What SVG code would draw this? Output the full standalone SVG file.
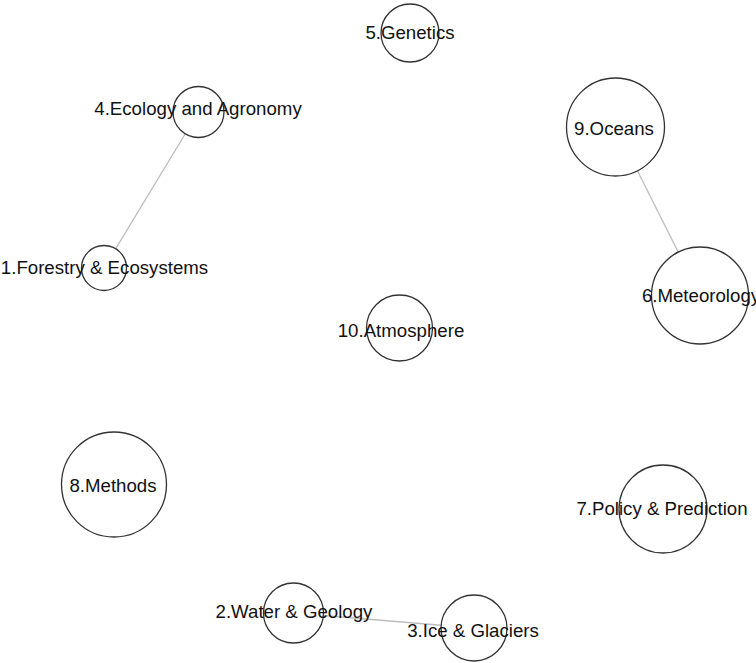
<svg xmlns="http://www.w3.org/2000/svg" width="756" height="663" viewBox="0 0 756 663">
<style>
.node circle{fill:#fff;stroke:#333;stroke-width:1.3}
.node text{font-family:"Liberation Sans",Arial,sans-serif;font-size:18.67px;fill:#111;text-anchor:middle}
.edges line{stroke:#bdbdbd;stroke-width:1.3}
</style>
<rect width="756" height="663" fill="#fff"/>
<g id="edges" class="edges">
<line x1="198.5" y1="112" x2="104" y2="268"/>
<line x1="615.5" y1="127" x2="700" y2="295.5"/>
<line x1="293.5" y1="613" x2="474" y2="628"/>
</g>
<g id="n5" class="node"><circle cx="410" cy="33" r="29"/><text x="410" y="39">5.Genetics</text></g>
<g id="n4" class="node"><circle cx="198.5" cy="112" r="25.5"/><text x="198" y="115">4.Ecology and Agronomy</text></g>
<g id="n9" class="node"><circle cx="615.5" cy="127" r="49"/><text x="614" y="135">9.Oceans</text></g>
<g id="n1" class="node"><circle cx="104" cy="268" r="22.5"/><text x="104.5" y="274">1.Forestry &amp; Ecosystems</text></g>
<g id="n6" class="node"><circle cx="700" cy="295.5" r="48.5"/><text x="701" y="302">6.Meteorology</text></g>
<g id="n10" class="node"><circle cx="399.5" cy="328" r="33"/><text x="401" y="337">10.Atmosphere</text></g>
<g id="n8" class="node"><circle cx="114" cy="484.5" r="52.5"/><text x="113" y="492">8.Methods</text></g>
<g id="n7" class="node"><circle cx="663" cy="509" r="44"/><text x="662" y="515">7.Policy &amp; Prediction</text></g>
<g id="n2" class="node"><circle cx="293.5" cy="613" r="30"/><text x="294" y="618">2.Water &amp; Geology</text></g>
<g id="n3" class="node"><circle cx="474" cy="628" r="33"/><text x="473" y="637">3.Ice &amp; Glaciers</text></g>
</svg>
